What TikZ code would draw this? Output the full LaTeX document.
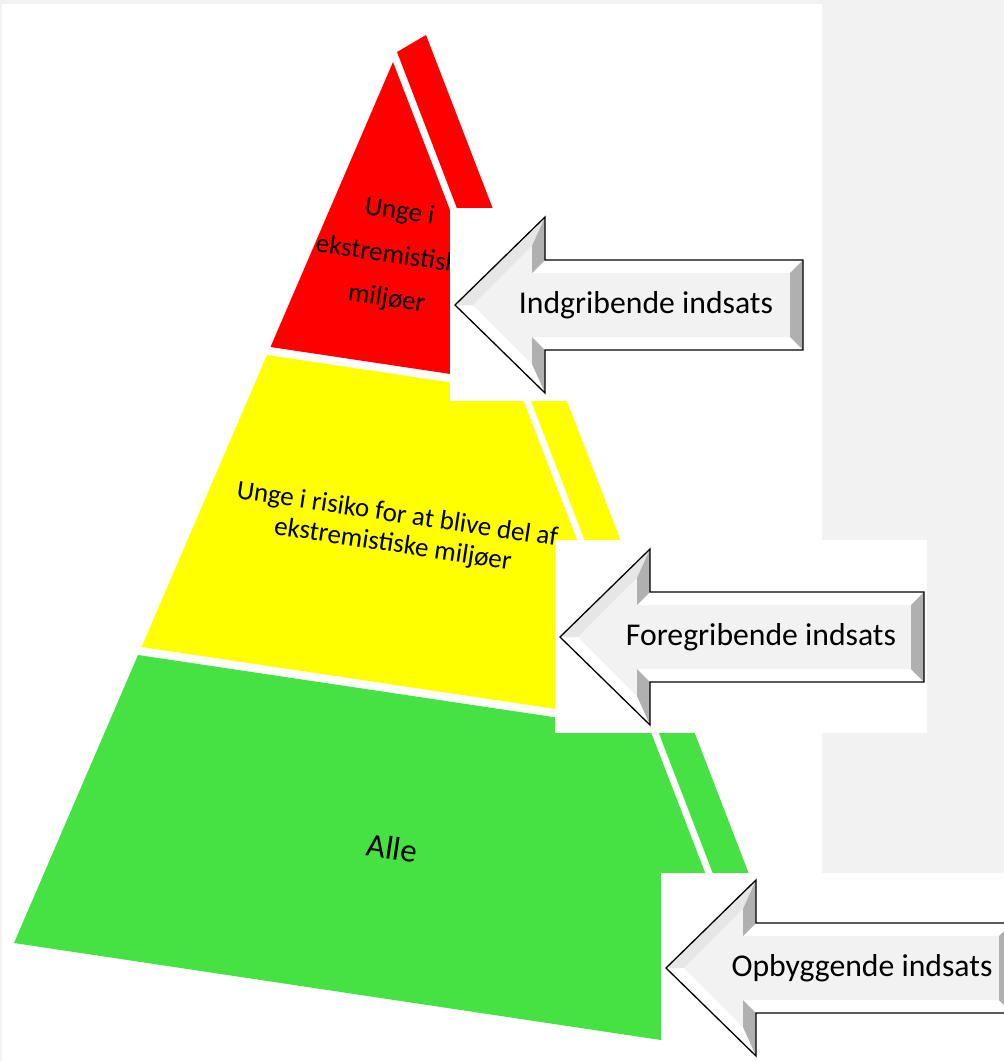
\documentclass[tikz,border=0pt]{standalone}
\usepackage{fontspec}
\setmainfont{Carlito}
\definecolor{pyrrod}{HTML}{FF0000}
\definecolor{pyrgul}{HTML}{FFFF00}
\definecolor{pyrgroen}{HTML}{46E243}
\definecolor{baggrund}{HTML}{F2F2F2}
\definecolor{pilflade}{HTML}{F2F2F2}
\definecolor{pilskygge}{HTML}{B0B0B0}
\definecolor{pillys}{HTML}{E6E6E6}
\tikzset{
	lagtekst/.style={rotate=-8.5, align=center, text=black, inner sep=0pt},
	daekfelt/.style={fill=white, draw=none},
	pilkant/.style={draw=black, line width=1.3pt, line join=miter},
	piltekst/.style={font=\fontsize{31.7}{38}\selectfont, inner sep=0pt}
}
% bevel arrow: tip x, tip y, right x, text x, name, text
\newcommand{\indsatspil}[6]{%
	\fill[white] (#1,#2) -- (#1+90,#2-88) -- (#1+90,#2-45) -- (#3,#2-45) -- (#3,#2+45) -- (#1+90,#2+45) -- (#1+90,#2+88) -- cycle;
	\fill[pillys] (#1,#2) -- (#1+90,#2-88) -- (#1+77,#2-59) -- (#1+18,#2) -- cycle;
	\fill[pilflade] (#1+18,#2) -- (#1+77,#2-59) -- (#1+77,#2-32) -- (#3-13,#2-32) -- (#3-13,#2+32) -- (#1+77,#2+32) -- (#1+77,#2+59) -- cycle;
	\fill[pilskygge] (#1+90,#2-88) -- (#1+90,#2-45) -- (#1+77,#2-32) -- (#1+77,#2-59) -- cycle;
	\fill[pilskygge] (#1+90,#2+45) -- (#1+90,#2+88) -- (#1+77,#2+59) -- (#1+77,#2+32) -- cycle;
	\fill[pilskygge] (#3,#2-45) -- (#3,#2+45) -- (#3-13,#2+32) -- (#3-13,#2-32) -- cycle;
	\draw[pilkant] (#1,#2) -- (#1+90,#2-88) -- (#1+90,#2-45) -- (#3,#2-45) -- (#3,#2+45) -- (#1+90,#2+45) -- (#1+90,#2+88) -- cycle;
	\node[piltekst] (#5) at (#4,#2) {#6};
}

\begin{document}
\begin{tikzpicture}[x=1pt, y=-1pt]
\clip (0,0) rectangle (1004,1061);
\fill[baggrund] (0,0) rectangle (1004,1061);
\fill[white] (2,4) rectangle (822,1061);

% pyramid, front face
\fill[pyrrod] (393,62) -- (517,384) -- (270.5,347) -- cycle;
\fill[pyrgul] (267,355) -- (520.4,392.9) -- (647.4,722.7) -- (141.5,647) -- cycle;
\fill[pyrgroen] (138,655) -- (650.8,731.6) -- (776.2,1057.3) -- (14,943) -- cycle;

% pyramid, side strip
\fill[pyrrod] (397,52) -- (426,35) -- (528,300) -- (492.1,300) -- cycle;
\fill[pyrgul] (492.1,300) -- (528,300) -- (658.9,640) -- (623,640) -- cycle;
\fill[pyrgroen] (623,640) -- (658.9,640) -- (797.5,1000) -- (761.6,1000) -- cycle;

\node[lagtekst, font=\fontsize{27}{44}\selectfont] (rod) at (393,256) {Unge i\\ekstremistiske\\miljøer};
\node[lagtekst, font=\fontsize{27}{30}\selectfont] (gul) at (395,530) {Unge i risiko for at blive del af\\ekstremistiske miljøer};
\node[lagtekst, font=\fontsize{33}{40}\selectfont] (groen) at (392,848) {Alle};

% white fields behind the arrows
\fill[daekfelt] (450,208) rectangle (822,401);
\fill[daekfelt] (555,540) rectangle (927,733);
\fill[daekfelt] (661,873) rectangle (1004,1061);

\indsatspil{455}{305}{803}{646}{indgribende}{Indgribende indsats}
\indsatspil{560}{637}{924}{761}{foregribende}{Foregribende indsats}
\indsatspil{666}{968}{1012}{862}{opbyggende}{Opbyggende indsats}

\end{tikzpicture}
\end{document}
